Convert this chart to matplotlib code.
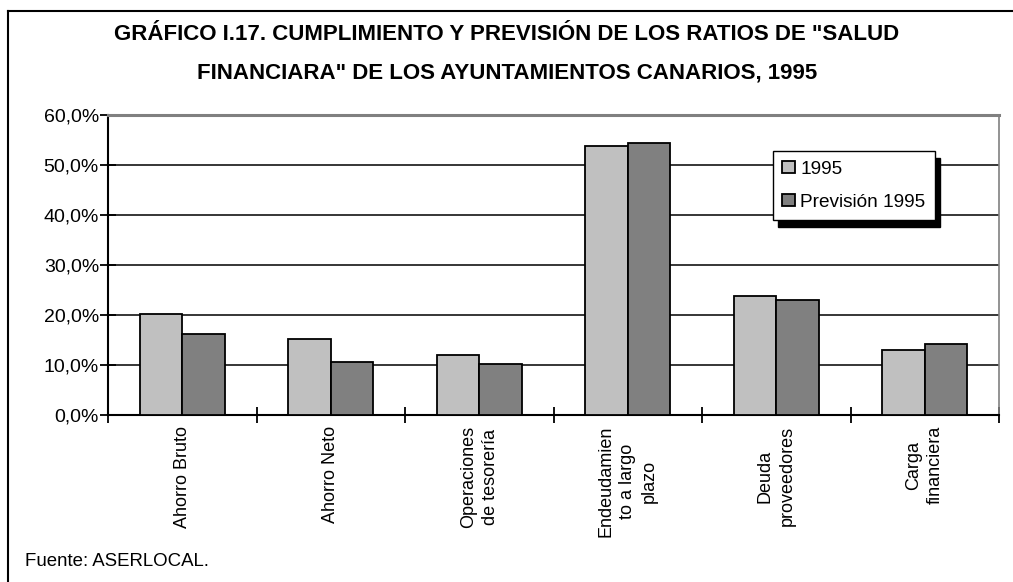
import numpy as np
import matplotlib
matplotlib.use("Agg")
import matplotlib.pyplot as plt
import matplotlib.transforms as mtransforms
from matplotlib.lines import Line2D

plt.rcParams["font.family"] = ["Liberation Sans", "DejaVu Sans"]

categories = ["Ahorro Bruto", "Ahorro Neto", "Operaciones\nde tesorería",
              "Endeudamien\nto a largo\nplazo", "Deuda\nproveedores", "Carga\nfinanciera"]
actual_1995 = [20.3, 15.2, 12.0, 53.9, 23.9, 13.1]
prevision_1995 = [16.3, 10.7, 10.3, 54.4, 23.1, 14.3]
series_names = ["1995", "Previsión 1995"]
y_ticks = [0, 10, 20, 30, 40, 50, 60]
title_lines = ['GRÁFICO I.17. CUMPLIMIENTO Y PREVISIÓN DE LOS RATIOS DE "SALUD',
               'FINANCIARA" DE LOS AYUNTAMIENTOS CANARIOS, 1995']
source = "Fuente: ASERLOCAL."

W, H = 1013, 582
fig = plt.figure(figsize=(W / 100, H / 100), dpi=100)

# outer frame (only top and left edges visible)
fig.add_artist(Line2D([8 / W, 1], [1 - 11 / H, 1 - 11 / H], color="black", lw=1.5,
                      transform=fig.transFigure))
fig.add_artist(Line2D([8 / W, 8 / W], [0, 1 - 11 / H], color="black", lw=1.5,
                      transform=fig.transFigure))

ax = fig.add_axes([108 / W, (H - 415) / H, 891 / W, 300 / H])

x = np.arange(len(categories)) + 0.5
bw = 0.286
ax.bar(x - bw / 2, actual_1995, bw, color="#c0c0c0", edgecolor="black", lw=1.3,
       label=series_names[0], zorder=3)
ax.bar(x + bw / 2, prevision_1995, bw, color="#808080", edgecolor="black", lw=1.3,
       label=series_names[1], zorder=3)

ax.set_xlim(0, len(categories))
ax.set_ylim(0, 60)
ax.set_yticks(y_ticks)
ax.set_yticklabels([f"{v:.1f}%".replace(".", ",") for v in y_ticks], fontsize=14)
ax.set_xticks(np.arange(len(categories) + 1))
ax.set_xticklabels([])
ax.tick_params(axis="both", direction="inout", length=11, width=1.3, color="black")
ax.tick_params(axis="y", pad=1)

for v in y_ticks[1:-1]:
    ax.axhline(v, color="black", lw=1.1, zorder=1)

ax.spines["left"].set_linewidth(1.5)
ax.spines["bottom"].set_linewidth(1.5)
ax.spines["top"].set_color("#808080")
ax.spines["top"].set_linewidth(2.2)
ax.spines["right"].set_color("#808080")
ax.spines["right"].set_linewidth(1.2)

# category labels, rotated
trans = mtransforms.blended_transform_factory(ax.transData, ax.transAxes)
for xi, lab in zip(x, categories):
    ax.text(xi, -11 / 300, lab, transform=trans, rotation=90, ha="center", va="top",
            multialignment="center", fontsize=13, linespacing=1.35)

leg = ax.legend(loc="upper left", bbox_to_anchor=(0.746, 0.88), borderaxespad=0,
                fontsize=13.7, frameon=True, fancybox=False, edgecolor="black",
                framealpha=1, handlelength=0.65, handleheight=0.65, handletextpad=0.3,
                labelspacing=0.85, borderpad=0.5,
                shadow={"color": "black", "alpha": 1, "ox": 4, "oy": -5})
leg.get_frame().set_linewidth(1.0)
leg.set_zorder(5)

fig.text(507 / W, 1 - 35 / H, title_lines[0], ha="center", va="center",
         fontsize=16, fontweight="bold")
fig.text(507 / W, 1 - 73 / H, title_lines[1], ha="center", va="center",
         fontsize=16, fontweight="bold")
fig.text(25 / W, 1 - 562 / H, source, ha="left", va="center", fontsize=13.4)

fig.savefig("out.png", dpi=100)
